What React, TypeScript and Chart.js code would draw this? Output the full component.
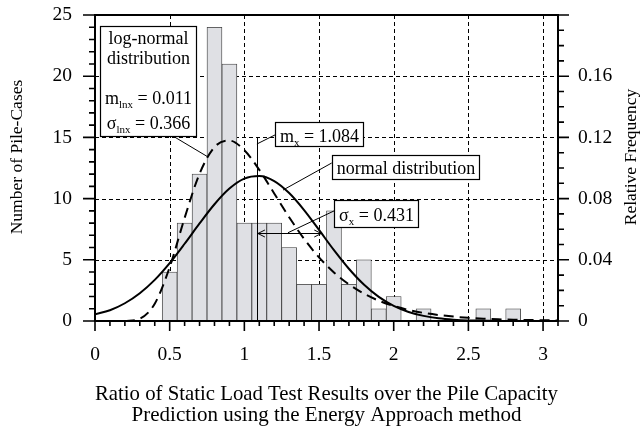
import React, { useEffect, useRef } from 'react';
import { Chart, registerables } from 'chart.js';

Chart.register(...registerables);

const FONT = "'Liberation Serif', 'Times New Roman', Times, serif";

// ---- Histogram (number of pile-cases per 0.1 bin) ----
const binCenters = [0.5, 0.6, 0.7, 0.8, 0.9, 1.0, 1.1, 1.2, 1.3, 1.4, 1.5, 1.6, 1.7, 1.8, 1.9, 2.0, 2.1, 2.2, 2.3, 2.4, 2.5, 2.6, 2.7, 2.8];
const binCounts = [4, 8, 12, 24, 21, 8, 8, 8, 6, 3, 3, 9, 3, 5, 1, 2, 0, 1, 0, 0, 0, 1, 0, 1];

// ---- Fitted normal distribution curve ----
const normalX = [0, 0.1, 0.2, 0.3, 0.4, 0.5, 0.6, 0.7, 0.8, 0.9, 1.0, 1.1, 1.2, 1.3, 1.4, 1.5, 1.6, 1.7, 1.8, 1.9, 2.0, 2.1, 2.2, 2.3, 2.4, 2.5, 2.6, 2.7, 2.8, 2.9, 3.0, 3.1];
const normalY = [0.55, 0.88, 1.45, 2.27, 3.36, 4.73, 6.31, 7.97, 9.54, 10.82, 11.63, 11.84, 11.43, 10.45, 9.06, 7.44, 5.79, 4.27, 2.98, 1.97, 1.24, 0.74, 0.42, 0.22, 0.11, 0.05, 0.03, 0.01, 0.01, 0, 0, 0];

// ---- Fitted log-normal distribution curve ----
const lognormalX = [0.2, 0.3, 0.4, 0.5, 0.6, 0.7, 0.8, 0.9, 1.0, 1.1, 1.2, 1.3, 1.4, 1.5, 1.6, 1.7, 1.8, 1.9, 2.0, 2.1, 2.2, 2.3, 2.4, 2.5, 2.6, 2.7, 2.8, 2.9, 3.0, 3.1];
const lognormalY = [0, 0.19, 1.41, 4.39, 8.42, 12.03, 14.21, 14.74, 13.95, 12.35, 10.42, 8.48, 6.71, 5.2, 3.97, 3.0, 2.24, 1.66, 1.23, 0.9, 0.66, 0.49, 0.36, 0.26, 0.19, 0.14, 0.1, 0.08, 0.06, 0.04];

// ---- Statistics ----
const meanX = 1.084;
const sigmaX = 0.431;
const sigmaLevel = 7.21; // height of the sigma arrow on the normal curve
const meanLineTop = 15.03;

// ---- Tick labels ----
const xTickLabels = ['0', '0.5', '1', '1.5', '2', '2.5', '3'];
const leftTickLabels = ['0', '5', '10', '15', '20', '25'];
const rightTickLabels = ['0', '0.04', '0.08', '0.12', '0.16'];
const xGridValues = [0.5, 1, 1.5, 2, 2.5, 3];
const yGridValues = [5, 10, 15, 20];

const xTitle = ['Ratio of Static Load Test Results over the Pile Capacity', 'Prediction using the Energy Approach method'];
const leftTitle = 'Number of Pile-Cases';
const rightTitle = 'Relative Frequency';

type Part = { t: string; sub?: boolean };

// annotation boxes: anchor (data units, top-left), height in px, baselines in px from top
const annotationBoxes: { lines: Part[][]; x: number; y: number; h: number; baselines: number[] }[] = [
  {
    lines: [
      [{ t: 'log-normal' }],
      [{ t: 'distribution' }],
      [],
      [{ t: 'm' }, { t: 'lnx', sub: true }, { t: ' = 0.011' }],
      [{ t: 'σ' }, { t: 'lnx', sub: true }, { t: ' = 0.366' }],
    ],
    x: 0.034, y: 24.1, h: 110, baselines: [18, 37.5, 0, 77.5, 102.5],
  },
  { lines: [[{ t: 'm' }, { t: 'x', sub: true }, { t: ' = 1.084' }]], x: 1.205, y: 16.26, h: 24, baselines: [19.5] },
  { lines: [[{ t: 'normal distribution' }]], x: 1.585, y: 13.56, h: 24, baselines: [19] },
  { lines: [[{ t: 'σ' }, { t: 'x', sub: true }, { t: ' = 0.431' }]], x: 1.6, y: 9.89, h: 27, baselines: [20.5] },
];

// leader lines in data units
const leaders = [
  [0.522, 15.11, 0.757, 13.4],
  [meanX, 14.46, 1.205, 15.2],
  [1.585, 12.91, 1.259, 10.7],
  [1.6, 8.99, 1.292, sigmaLevel],
];

const MAIN_FONT = `18px ${FONT}`;
const SUB_FONT = `11px ${FONT}`;

function richWidth(ctx: CanvasRenderingContext2D, parts: Part[]) {
  let w = 0;
  for (const p of parts) {
    ctx.font = p.sub ? SUB_FONT : MAIN_FONT;
    w += ctx.measureText(p.t).width;
  }
  return w;
}

function drawRich(ctx: CanvasRenderingContext2D, parts: Part[], cx: number, baseline: number) {
  const w = richWidth(ctx, parts);
  let x = cx - w / 2;
  ctx.textAlign = 'left';
  ctx.textBaseline = 'alphabetic';
  for (const p of parts) {
    ctx.font = p.sub ? SUB_FONT : MAIN_FONT;
    ctx.fillText(p.t, x, baseline + (p.sub ? 4 : 0));
    x += ctx.measureText(p.t).width;
  }
}

const overlayPlugin = {
  id: 'overlay',
  beforeDatasetsDraw(chart: any) {
    const { ctx, chartArea: a, scales } = chart;
    const xs = scales.x, ys = scales.y;
    ctx.save();
    ctx.strokeStyle = '#000';
    ctx.lineWidth = 1;
    ctx.setLineDash([4, 3]);
    ctx.beginPath();
    for (const v of xGridValues) {
      const px = Math.round(xs.getPixelForValue(v)) + 0.5;
      ctx.moveTo(px, a.top);
      ctx.lineTo(px, a.bottom);
    }
    for (const v of yGridValues) {
      const py = Math.round(ys.getPixelForValue(v)) + 0.5;
      ctx.moveTo(a.left, py);
      ctx.lineTo(a.right, py);
    }
    ctx.stroke();
    ctx.restore();
  },
  afterDatasetsDraw(chart: any) {
    const { ctx, chartArea: a, scales } = chart;
    const xs = scales.x, ys = scales.y, y2 = scales.y2;
    const X = (v: number) => xs.getPixelForValue(v);
    const Y = (v: number) => ys.getPixelForValue(v);
    ctx.save();
    ctx.setLineDash([]);
    ctx.strokeStyle = '#000';
    ctx.fillStyle = '#000';

    // mean line
    ctx.lineWidth = 1;
    ctx.beginPath();
    const mx = Math.round(X(meanX)) + 0.5;
    ctx.moveTo(mx, Y(0));
    ctx.lineTo(mx, Y(meanLineTop));
    ctx.stroke();

    // sigma double arrow
    const ay = Math.round(Y(sigmaLevel)) + 0.5;
    const ax0 = X(meanX) + 1, ax1 = X(meanX + sigmaX);
    ctx.beginPath();
    ctx.moveTo(ax0, ay); ctx.lineTo(ax1, ay);
    ctx.moveTo(ax0 + 7, ay - 3.5); ctx.lineTo(ax0, ay); ctx.lineTo(ax0 + 7, ay + 3.5);
    ctx.moveTo(ax1 - 7, ay - 3.5); ctx.lineTo(ax1, ay); ctx.lineTo(ax1 - 7, ay + 3.5);
    ctx.stroke();

    // leaders
    ctx.beginPath();
    for (const [x0, y0, x1, y1] of leaders) {
      ctx.moveTo(X(x0), Y(y0));
      ctx.lineTo(X(x1), Y(y1));
    }
    ctx.stroke();

    // boxes
    for (const b of annotationBoxes) {
      let maxW = 0;
      for (const l of b.lines) maxW = Math.max(maxW, richWidth(ctx, l));
      const w = Math.round(maxW + 9);
      const left = Math.round(X(b.x));
      const top = Math.round(Y(b.y));
      ctx.fillStyle = '#fff';
      ctx.fillRect(left, top, w, b.h);
      ctx.strokeStyle = '#000';
      ctx.lineWidth = 1.2;
      ctx.strokeRect(left + 0.5, top + 0.5, w, b.h);
      ctx.fillStyle = '#000';
      b.lines.forEach((l, i) => {
        if (l.length) drawRich(ctx, l, left + 0.5 + w / 2, top + b.baselines[i]);
      });
    }

    // ticks
    ctx.strokeStyle = '#000';
    ctx.lineWidth = 1.6;
    ctx.beginPath();
    for (let i = 0; i <= 31; i++) {
      const px = X(i / 10);
      const len = i % 5 === 0 ? 10 : 5;
      ctx.moveTo(px, a.bottom);
      ctx.lineTo(px, a.bottom + len);
    }
    for (let i = 0; i <= 25; i++) {
      const py = Y(i);
      const len = i % 5 === 0 ? 12 : 6;
      ctx.moveTo(a.left, py);
      ctx.lineTo(a.left - len, py);
    }
    for (let i = 0; i <= 20; i++) {
      const py = y2.getPixelForValue(i / 100);
      const len = i % 4 === 0 ? 11 : 6;
      ctx.moveTo(a.right, py);
      ctx.lineTo(a.right + len, py);
    }
    ctx.stroke();

    // frame
    ctx.lineWidth = 2;
    ctx.strokeRect(a.left, a.top, a.right - a.left, a.bottom - a.top);

    // vertical axis titles
    ctx.font = `17.5px ${FONT}`;
    ctx.fillStyle = '#000';
    ctx.textAlign = 'center';
    ctx.textBaseline = 'middle';
    const midY = 157;
    ctx.save();
    ctx.translate(17, midY);
    ctx.rotate(-Math.PI / 2);
    ctx.fillText(leftTitle, 0, 0);
    ctx.restore();
    ctx.save();
    ctx.translate(631, midY);
    ctx.rotate(-Math.PI / 2);
    ctx.fillText(rightTitle, 0, 0);
    ctx.restore();

    ctx.restore();
  },
};

const zeroPadding = (s: any) => {
  s.paddingTop = 0;
  s.paddingBottom = 0;
  s.paddingLeft = 0;
  s.paddingRight = 0;
};

export default function App() {
  const ref = useRef<HTMLCanvasElement | null>(null);

  useEffect(() => {
    if (!ref.current) return;
    const tickFont = { family: FONT, size: 19.5 };
    const chart = new Chart(ref.current, {
      type: 'bar',
      data: {
        datasets: [
          {
            type: 'line',
            label: 'log-normal distribution',
            data: lognormalX.map((x, i) => ({ x, y: lognormalY[i] })),
            borderColor: '#000',
            borderWidth: 2,
            borderDash: [10, 6],
            pointRadius: 0,
            fill: false,
            cubicInterpolationMode: 'monotone',
            order: 1,
          } as any,
          {
            type: 'line',
            label: 'normal distribution',
            data: normalX.map((x, i) => ({ x, y: normalY[i] })),
            borderColor: '#000',
            borderWidth: 2,
            pointRadius: 0,
            fill: false,
            cubicInterpolationMode: 'monotone',
            order: 2,
          } as any,
          {
            type: 'bar',
            label: 'Number of Pile-Cases',
            data: binCenters.map((x, i) => ({ x, y: binCounts[i] })),
            backgroundColor: '#dfe0e4',
            borderColor: '#3a3a3a',
            borderWidth: 0.8,
            borderSkipped: false,
            categoryPercentage: 1,
            barPercentage: 1,
            order: 3,
          } as any,
        ],
      },
      options: {
        animation: false,
        responsive: false,
        devicePixelRatio: 1,
        layout: { padding: { top: 15, left: 0, right: 0, bottom: 0 } },
        plugins: { legend: { display: false }, tooltip: { enabled: false } },
        scales: {
          x: {
            type: 'linear',
            min: 0,
            max: 3.1,
            offset: false,
            grid: { display: false, drawTicks: false },
            border: { display: false },
            ticks: {
              stepSize: 0.5,
              includeBounds: false,
              autoSkip: false,
              maxRotation: 0,
              padding: 22,
              color: '#000',
              font: tickFont,
              callback: (v: any) => {
                const i = Math.round(Number(v) / 0.5);
                return Math.abs(Number(v) - i * 0.5) < 1e-6 ? xTickLabels[i] ?? '' : '';
              },
            },
            title: {
              display: true,
              text: xTitle,
              color: '#000',
              font: { family: FONT, size: 21, lineHeight: 1.0 },
              padding: { top: 0, bottom: 6 },
            },
            afterFit: (s: any) => { s.height = 111; zeroPadding(s); },
          } as any,
          y: {
            type: 'linear',
            position: 'left',
            min: 0,
            max: 25,
            grid: { display: false, drawTicks: false },
            border: { display: false },
            ticks: {
              stepSize: 5,
              padding: 23,
              color: '#000',
              font: tickFont,
              callback: (v: any) => leftTickLabels[Math.round(Number(v) / 5)] ?? '',
            },
            afterFit: (s: any) => { s.width = 95; zeroPadding(s); },
          } as any,
          y2: {
            type: 'linear',
            position: 'right',
            min: 0,
            max: 0.2,
            grid: { display: false, drawTicks: false },
            border: { display: false },
            ticks: {
              stepSize: 0.04,
              padding: 20,
              color: '#000',
              font: tickFont,
              callback: (v: any) => rightTickLabels[Math.round(Number(v) / 0.04)] ?? '',
            },
            afterFit: (s: any) => { s.width = 83; zeroPadding(s); },
          } as any,
        },
      },
      plugins: [overlayPlugin],
    });
    return () => chart.destroy();
  }, []);

  return (
    <div style={{ position: 'absolute', left: 0, top: 0, width: 641, height: 432, background: '#fff' }}>
      <canvas ref={ref} width={641} height={432} style={{ display: 'block', width: 641, height: 432 }} />
    </div>
  );
}
